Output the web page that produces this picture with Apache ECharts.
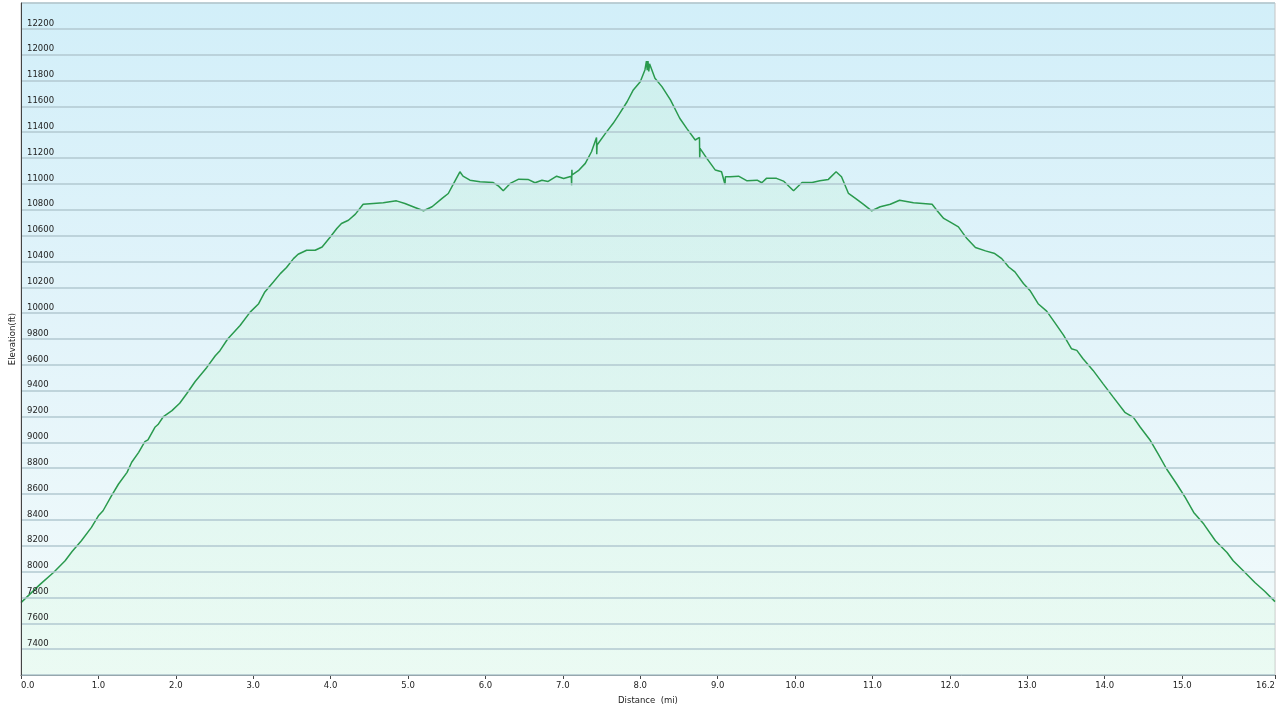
<!DOCTYPE html>
<html>
<head>
<meta charset="utf-8">
<script src="https://cdn.jsdelivr.net/npm/echarts@6/dist/echarts.min.js"></script>
<style>
html,body{margin:0;padding:0;background:#ffffff;}
#chart{width:1280px;height:711px;}
</style>
</head>
<body>
<div id="chart"></div>
<script>
// Distance along the trail (mi)
const distanceMi = [
  0.00,0.25,0.42,0.57,0.66,0.78,0.91,1.00,1.06,1.17,1.26,1.37,1.43,1.52,1.60,1.64,1.73,1.77,1.84,1.95,
  2.05,2.14,2.25,2.40,2.51,2.57,2.67,2.83,2.96,3.07,3.15,3.26,3.35,3.43,3.52,3.58,3.69,3.80,3.89,3.99,
  4.08,4.14,4.23,4.32,4.42,4.55,4.68,4.85,4.96,5.09,5.20,5.31,5.44,5.52,5.59,5.67,5.71,5.80,5.93,6.10,
  6.17,6.23,6.32,6.43,6.55,6.64,6.73,6.81,6.92,7.01,7.11,7.113,7.117,7.12,7.20,7.29,7.37,7.435,7.438,7.442,
  7.55,7.65,7.72,7.83,7.91,8.00,8.06,8.08,8.09,8.10,8.11,8.12,8.13,8.19,8.28,8.39,8.51,8.60,8.71,8.765,
  8.768,8.772,8.86,8.97,9.05,9.095,9.10,9.16,9.27,9.38,9.51,9.57,9.63,9.76,9.85,9.98,10.09,10.22,10.32,10.43,
  10.53,10.60,10.69,10.78,10.88,10.99,11.10,11.23,11.35,11.53,11.77,11.83,11.92,12.00,12.11,12.22,12.33,12.46,12.58,12.67,
  12.76,12.84,12.95,13.04,13.14,13.25,13.36,13.47,13.57,13.64,13.72,13.85,13.98,14.11,14.26,14.37,14.46,14.59,14.69,14.80,
  14.93,15.04,15.15,15.28,15.43,15.58,15.66,15.79,15.94,16.07,16.20
];
// Elevation (ft)
const elevationFt = [
  7760,7903,7993,8084,8156,8239,8342,8432,8471,8588,8678,8768,8846,8923,9006,9019,9117,9138,9200,9246,
  9303,9376,9471,9580,9670,9710,9800,9905,10008,10073,10164,10241,10306,10353,10422,10456,10487,10487,10512,10585,
  10655,10694,10719,10766,10843,10849,10854,10869,10849,10818,10792,10823,10888,10926,11004,11094,11060,11029,11016,11011,
  10983,10947,11004,11037,11035,11009,11029,11019,11060,11042,11060,10990,11110,11070,11102,11159,11249,11360,11230,11301,
  11391,11469,11533,11636,11727,11791,11882,11950,11880,11950,11870,11930,11929,11818,11753,11650,11508,11430,11340,11360,
  11200,11275,11198,11107,11094,10995,11055,11055,11060,11024,11029,11009,11043,11043,11022,10947,11011,11011,11024,11035,
  11094,11055,10926,10888,10843,10792,10823,10843,10874,10854,10843,10797,10733,10706,10668,10577,10508,10482,10461,10422,
  10357,10319,10229,10171,10073,10016,9923,9828,9725,9712,9647,9557,9453,9350,9233,9194,9117,9014,8911,8794,
  8678,8574,8458,8368,8239,8148,8084,8006,7916,7846,7768
];
// Axis tick values
const xTickValues = [0,1,2,3,4,5,6,7,8,9,10,11,12,13,14,15,16.2];
const yMin = 7200, yMax = 12400, yStep = 200;

const seriesData = distanceMi.map((d, i) => [d, elevationFt[i]]);

const chart = echarts.init(document.getElementById('chart'), null, {renderer: 'canvas'});
const labelFont = 'Verdana, "DejaVu Sans", sans-serif';

chart.setOption({
  animation: false,
  backgroundColor: '#ffffff',
  grid: {
    left: 21, right: 5, top: 3, bottom: 36,
    outerBoundsMode: 'none',
    containLabel: false,
    show: true,
    borderColor: '#c4c4c4',
    borderWidth: 1,
    backgroundColor: {
      type: 'linear', x: 0, y: 0, x2: 0, y2: 1,
      colorStops: [
        {offset: 0, color: '#d2eff9'},
        {offset: 0.5, color: '#e3f4fa'},
        {offset: 1, color: '#f3fbfb'}
      ]
    }
  },
  xAxis: {
    type: 'value',
    min: 0, max: 16.2,
    name: 'Distance  (mi)',
    nameLocation: 'middle',
    nameGap: 21,
    nameTextStyle: {fontFamily: labelFont, fontSize: 8.5, color: '#222'},
    axisLine: {show: true, lineStyle: {color: '#444', width: 1}},
    axisTick: {show: true, length: 4, lineStyle: {color: '#444'}, customValues: xTickValues},
    axisLabel: {
      customValues: xTickValues,
      formatter: v => Number(v).toFixed(1),
      fontFamily: labelFont, fontSize: 8.5, color: '#222',
      margin: 6,
      alignMinLabel: 'left', alignMaxLabel: 'right'
    },
    splitLine: {show: false}
  },
  yAxis: {
    type: 'value',
    z: 5,
    min: yMin, max: yMax, interval: yStep,
    name: 'Elevation(ft)',
    nameLocation: 'middle',
    nameGap: 4,
    nameMoveOverlap: false,
    nameRotate: 90,
    nameTextStyle: {fontFamily: labelFont, fontSize: 8.5, color: '#222', verticalAlign: 'bottom'},
    axisLine: {show: true, lineStyle: {color: '#444', width: 1}},
    axisTick: {show: false},
    axisLabel: {
      inside: true,
      margin: 6,
      verticalAlign: 'bottom',
      padding: [0, 0, 1, 0],
      showMinLabel: false,
      showMaxLabel: false,
      formatter: v => String(v),
      fontFamily: labelFont, fontSize: 8.5, color: '#222'
    },
    splitLine: {show: true, lineStyle: {color: '#b2c9d1', width: 1.5}}
  },
  series: [{
    type: 'line',
    data: seriesData,
    showSymbol: false,
    symbol: 'none',
    smooth: false,
    lineStyle: {color: '#2a9a4e', width: 1.5},
    areaStyle: {
      origin: 'start',
      color: {
        type: 'linear', x: 0, y: 0, x2: 0, y2: 1,
        colorStops: [
          {offset: 0, color: 'rgba(185,240,205,0.35)'},
          {offset: 1, color: 'rgba(220,250,228,0.5)'}
        ]
      }
    },
    z: 3
  }]
});
</script>
</body>
</html>
